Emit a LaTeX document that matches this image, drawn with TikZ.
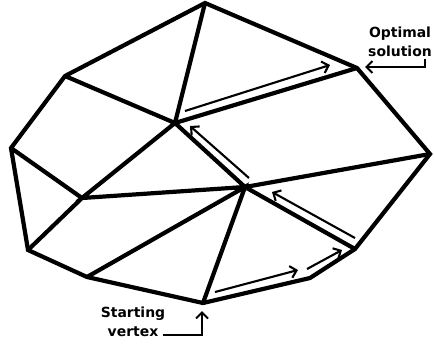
\documentclass[tikz,border=0pt]{standalone}
\usepackage{fontspec}
\setmainfont{DejaVu Sans}
\usetikzlibrary{arrows.meta}

\begin{document}
\begin{tikzpicture}[x=1bp,y=-1bp,
 edge/.style={line width=4.2bp},
 move/.style={line width=2.1bp,-{Straight Barb[length=6bp,width=12bp,line width=2.1bp]}},
 lbl/.style={font=\bfseries\fontsize{14}{18.5}\selectfont,align=center,inner sep=0pt}]
\useasboundingbox (0,0) rectangle (434,345);
% vertices of the polytope
\coordinate (top) at (205,3);\coordinate (opt) at (357,68);\coordinate (right) at (430,154);\coordinate (br) at (355,249);
\coordinate (b2) at (310,278);\coordinate (start) at (203,303);\coordinate (bl) at (87,277);\coordinate (l2) at (28,250);
\coordinate (left) at (11,148);\coordinate (ul) at (65,76);\coordinate (a) at (175,123);\coordinate (c) at (245,187);\coordinate (d) at (82,198);
\draw[edge] (top)--(opt)--(right)--(br)--(b2)--(start)--(bl)--(l2)--(left)--(ul)--cycle;
\draw[edge] (top)--(a) (ul)--(a)--(opt) (a)--(c)--(right) (a)--(d)--(c) (left)--(d)--(l2) (bl)--(c)--(start) (c)--(br);
% simplex path
\coordinate (p1) at (215,292);\coordinate (p2) at (298,270);\coordinate (p3) at (307,269);\coordinate (p4) at (342,250);
\coordinate (p5) at (355,238);\coordinate (p6) at (272,192);\coordinate (p7) at (249,178);\coordinate (p8) at (190,126);
\coordinate (p9) at (185,111);\coordinate (p10) at (330,65);
\draw[move] (p1)--(p2);\draw[move] (p3)--(p4);\draw[move] (p5)--(p6);\draw[move] (p7)--(p8);\draw[move] (p9)--(p10);
% labels
\node[lbl] (optlbl) at (400,42) {Optimal\\solution};
\node[lbl] (startlbl) at (133,322) {Starting\\vertex};
\coordinate (q1) at (425,59);\coordinate (q2) at (365,67);\coordinate (q3) at (163,335);\coordinate (q4) at (202,311);
\draw[move] (q1)|-(q2);\draw[move] (q3)-|(q4);
\end{tikzpicture}
\end{document}
